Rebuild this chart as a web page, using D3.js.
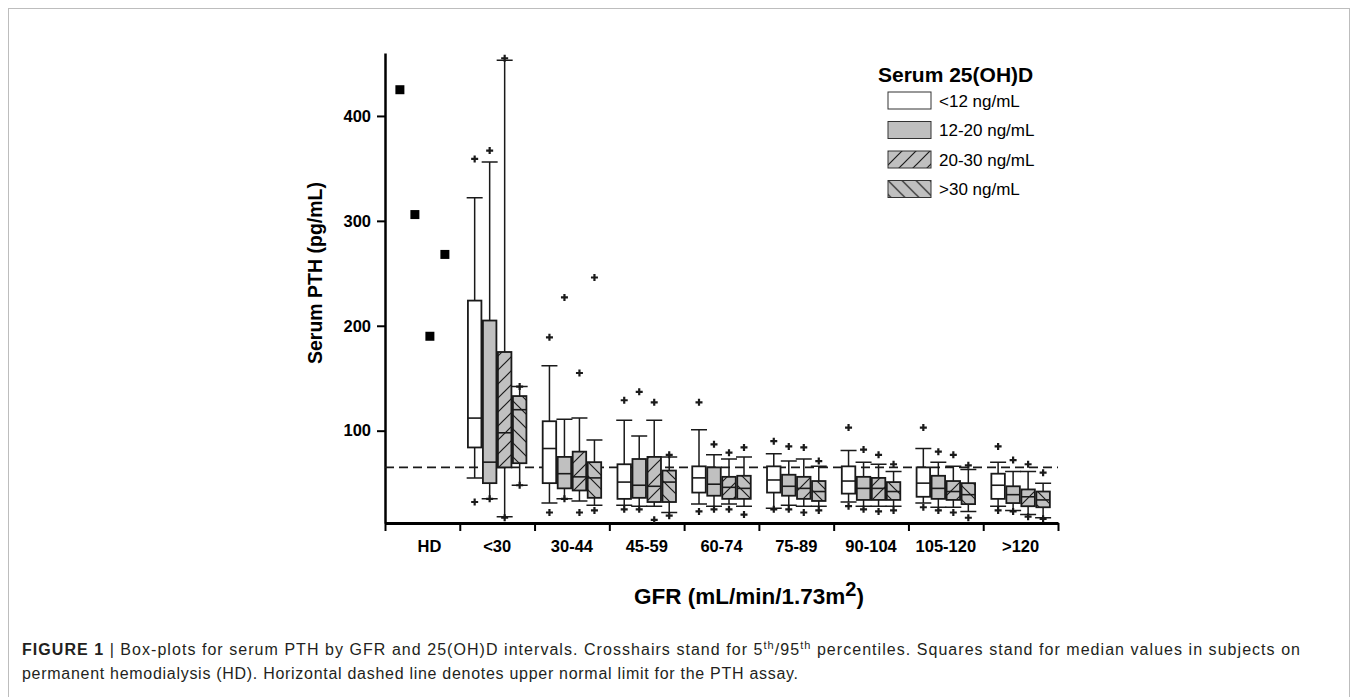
<!DOCTYPE html>
<html>
<head>
<meta charset="utf-8">
<script src="https://cdn.jsdelivr.net/npm/d3@7"></script>
<style>
  body { margin: 0; background: #fff; }
  svg { font-family: "Liberation Sans", Arial, sans-serif; }
</style>
</head>
<body>
<svg width="1357" height="697"></svg>
<script>
const groups = ["HD", "<30", "30-44", "45-59", "60-74", "75-89", "90-104", "105-120", ">120"];
const gfrGroups = groups.slice(1);
const series = ["<12 ng/mL", "12-20 ng/mL", "20-30 ng/mL", ">30 ng/mL"];

// medians for hemodialysis subjects, one per 25(OH)D class
const hdMedians = [425, 306, 190, 268];

// per series, one value per GFR group (<30 ... >120)
const p95 = [
  [359, 189, 129, 127, 90, 103, 103, 85],
  [367, 227, 137, 87, 85, 82, 80, 72],
  [455, 155, 127, 79, 84, 77, 77, 68],
  [142, 246, 77, 84, 71, 68, 67, 60]
];
const p90 = [
  [322, 162, 110, 101, 78, 81, 83, 70],
  [356, 111, 95, 77, 71, 70, 70, 61],
  [453, 112, 110, 73, 73, 68, 66, 61],
  [142, 91, 75, 75, 66, 61, 63, 50]
];
const q3 = [
  [224, 109, 68, 66, 66, 66, 65, 59],
  [205, 75, 73, 65, 58, 56, 57, 47],
  [175, 80, 75, 56, 56, 55, 52, 44],
  [133, 70, 62, 57, 52, 51, 50, 42]
];
const median = [
  [112, 83, 51, 55, 53, 52, 50, 48],
  [70, 59, 48, 49, 47, 45, 45, 39],
  [98, 56, 47, 46, 45, 45, 42, 37],
  [120, 55, 51, 45, 42, 42, 39, 34]
];
const q1 = [
  [84, 50, 35, 41, 41, 40, 37, 35],
  [50, 45, 36, 38, 38, 34, 35, 31],
  [65, 43, 32, 35, 35, 34, 34, 28],
  [69, 36, 32, 35, 33, 34, 30, 27]
];
const p10 = [
  [55, 31, 29, 30, 26, 32, 31, 28],
  [35, 35, 28, 28, 29, 28, 27, 24],
  [18, 33, 28, 30, 28, 28, 27, 20],
  [48, 29, 22, 28, 28, 28, 23, 17]
];
const p5 = [
  [32, 22, 25, 23, 25, 28, 27, 24],
  [35, 35, 25, 25, 25, 25, 24, 23],
  [17, 22, 15, 25, 22, 23, 22, 18],
  [48, 24, 19, 20, 24, 24, 17, 16]
];
const yTicks = [100, 200, 300, 400];
const normalLimit = 65;

const svg = d3.select("svg");
const ink = "#1a1a1a";
const gray = "#c0c0c0";

// figure frame
svg.append("rect")
  .attr("x", 8.5).attr("y", 8.5)
  .attr("width", 1341).attr("height", 720)
  .attr("fill", "none").attr("stroke", "#bdbdbd");

const defs = svg.append("defs");
function hatch(id, d) {
  const p = defs.append("pattern")
    .attr("id", id)
    .attr("patternUnits", "userSpaceOnUse")
    .attr("width", 14).attr("height", 14);
  p.append("rect").attr("width", 14).attr("height", 14).attr("fill", gray);
  p.append("path").attr("d", d).attr("stroke", ink).attr("stroke-width", 1.2);
}
hatch("fwd", "M0,14 L14,0 M-4,4 L4,-4 M10,18 L18,10");
hatch("back", "M0,0 L14,14 M-4,10 L4,18 M10,-4 L18,4");
const fills = [ "#fff", gray, "url(#fwd)", "url(#back)" ];

const x = d3.scaleBand().domain(groups).range([385, 1058]);
const xEdge = d3.scaleLinear().domain([0, groups.length]).range([385, 1058]);
const xs = d3.scaleBand().domain(series).range([-30, 30]);
const y = d3.scaleLinear().domain([12, 460]).range([523, 53]);

const boxW = xs.bandwidth() * 0.9;
const capW = 16;

// axes
svg.append("g")
  .attr("transform", "translate(0,523)")
  .call(d3.axisBottom(xEdge).tickValues(d3.range(groups.length + 1)).tickFormat("").tickSize(8).tickSizeOuter(0))
  .call(g => g.select(".domain").attr("stroke-width", 3))
  .call(g => g.selectAll(".tick line").attr("stroke-width", 2));

svg.append("g")
  .attr("transform", "translate(0,523)")
  .call(d3.axisBottom(x).tickSize(0).tickPadding(17))
  .call(g => g.select(".domain").remove())
  .call(g => g.selectAll("text")
    .attr("font-size", 16.5).attr("font-weight", "bold").attr("fill", "#000")
    .attr("font-family", "Liberation Sans, Arial, sans-serif")
    .attr("dx", d => d === "HD" ? 7 : 0));

svg.append("g")
  .attr("transform", "translate(385,0)")
  .call(d3.axisLeft(y).tickValues(yTicks).tickSize(8).tickPadding(6).tickSizeOuter(0))
  .call(g => g.select(".domain").attr("stroke-width", 2.5))
  .call(g => g.selectAll(".tick line").attr("stroke-width", 2))
  .call(g => g.selectAll("text")
    .attr("font-size", 16.5).attr("font-weight", "bold").attr("fill", "#000")
    .attr("font-family", "Liberation Sans, Arial, sans-serif"));

svg.append("text")
  .attr("transform", "translate(322,273) rotate(-90)")
  .attr("text-anchor", "middle")
  .attr("font-size", 19.5).attr("font-weight", "bold")
  .text("Serum PTH (pg/mL)");

const xt = svg.append("text")
  .attr("x", 749).attr("y", 604)
  .attr("text-anchor", "middle")
  .attr("font-size", 22.5).attr("font-weight", "bold");
xt.append("tspan").text("GFR (mL/min/1.73m");
xt.append("tspan").attr("dy", -8).attr("font-size", 20).text("2");
xt.append("tspan").attr("dy", 8).text(")");

// upper normal limit
svg.append("line")
  .attr("x1", 385).attr("x2", 1058)
  .attr("y1", y(normalLimit)).attr("y2", y(normalLimit))
  .attr("stroke", ink).attr("stroke-width", 1.6)
  .attr("stroke-dasharray", "9,5");

// HD medians
svg.append("g").selectAll("rect")
  .data(hdMedians)
  .join("rect")
  .attr("x", (d, i) => x("HD") + x.bandwidth() / 2 + xs(series[i]) + xs.bandwidth() / 2 - 4.5)
  .attr("y", d => y(d) - 4.5)
  .attr("width", 9).attr("height", 9)
  .attr("fill", "#000");

// boxes
const boxes = [];
series.forEach((s, si) => {
  gfrGroups.forEach((g, gi) => {
    boxes.push({
      s: si, g,
      p5: p5[si][gi], p10: p10[si][gi], q1: q1[si][gi], med: median[si][gi],
      q3: q3[si][gi], p90: p90[si][gi], p95: p95[si][gi]
    });
  });
});
const cx = d => x(d.g) + x.bandwidth() / 2 + xs(series[d.s]) + xs.bandwidth() / 2;

const bg = svg.append("g").selectAll("g")
  .data(boxes)
  .join("g")
  .attr("stroke", ink);

bg.append("path")
  .attr("fill", "none").attr("stroke-width", 1.5)
  .attr("d", d => {
    const c = cx(d);
    return `M${c},${y(d.q3)}V${y(d.p90)}M${c - capW / 2},${y(d.p90)}H${c + capW / 2}` +
      `M${c},${y(d.q1)}V${y(d.p10)}M${c - capW / 2},${y(d.p10)}H${c + capW / 2}`;
  });

bg.append("rect")
  .attr("x", d => cx(d) - boxW / 2)
  .attr("y", d => y(d.q3))
  .attr("width", boxW)
  .attr("height", d => y(d.q1) - y(d.q3))
  .attr("fill", d => fills[d.s])
  .attr("stroke-width", 1.8);

bg.append("line")
  .attr("x1", d => cx(d) - boxW / 2).attr("x2", d => cx(d) + boxW / 2)
  .attr("y1", d => y(d.med)).attr("y2", d => y(d.med))
  .attr("stroke-width", 1.6);

bg.append("path")
  .attr("fill", "none").attr("stroke-width", 2.2)
  .attr("d", d => {
    const c = cx(d);
    return [d.p5, d.p95].map(v => `M${c - 3.5},${y(v)}H${c + 3.5}M${c},${y(v) - 3.5}V${y(v) + 3.5}`).join("");
  });

// legend
svg.append("text")
  .attr("x", 878).attr("y", 82)
  .attr("font-size", 21).attr("font-weight", "bold")
  .text("Serum 25(OH)D");

const leg = svg.append("g").selectAll("g")
  .data(series)
  .join("g")
  .attr("transform", (d, i) => `translate(888,${92 + i * 29.5})`);
leg.append("rect")
  .attr("width", 43).attr("height", 17)
  .attr("fill", (d, i) => fills[i])
  .attr("stroke", "#333").attr("stroke-width", 1);
leg.append("text")
  .attr("x", 51).attr("y", 14.5)
  .attr("font-size", 17)
  .text(d => d);

// caption
const cap1 = svg.append("text")
  .attr("x", 22).attr("y", 655)
  .attr("font-size", 16).attr("fill", "#231f20")
  .attr("textLength", 1278).attr("lengthAdjust", "spacing");
cap1.append("tspan").attr("font-weight", "bold").text("FIGURE 1");
cap1.append("tspan").text(" | Box-plots for serum PTH by GFR and 25(OH)D intervals. Crosshairs stand for 5");
cap1.append("tspan").attr("font-size", 11).attr("dy", -6).text("th");
cap1.append("tspan").attr("dy", 6).text("/95");
cap1.append("tspan").attr("font-size", 11).attr("dy", -6).text("th");
cap1.append("tspan").attr("dy", 6).text(" percentiles. Squares stand for median values in subjects on");

svg.append("text")
  .attr("x", 22).attr("y", 679)
  .attr("font-size", 16).attr("fill", "#231f20")
  .attr("textLength", 776).attr("lengthAdjust", "spacing")
  .text("permanent hemodialysis (HD). Horizontal dashed line denotes upper normal limit for the PTH assay.");
</script>
</body>
</html>
